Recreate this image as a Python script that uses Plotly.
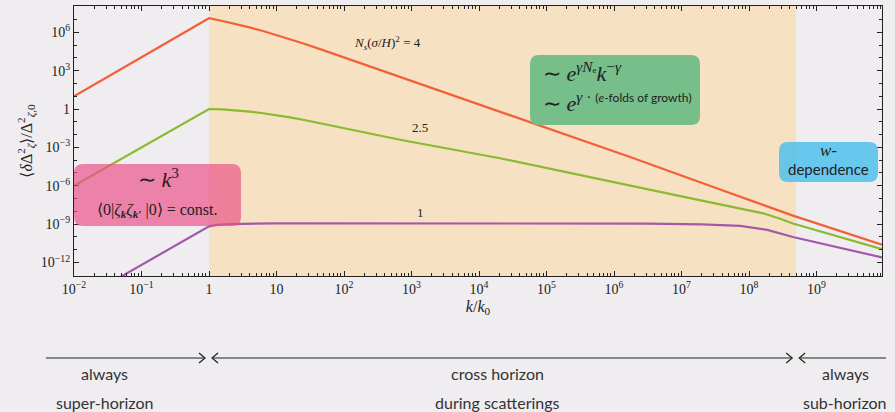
import numpy as np
import plotly.graph_objects as go

# ---------------- data ----------------
# log10(k/k0) sample points and log10 of <dDelta^2>/Delta^2_0
k_orange = [-2.0, 0.0, 0.2, 0.4, 0.6, 0.8, 1.0, 1.2, 1.4, 1.7, 2.0, 2.83, 4.3, 5.64, 6.28, 7.5,
            8.65, 9.97]
v_orange = [1.0, 7.09, 6.88, 6.64, 6.38, 6.10, 5.79, 5.46, 5.12, 4.58, 4.03, 2.50, -0.2, -2.65,
            -3.83, -6.15, -8.33, -10.6]

k_green = [-2.0, 0.0, 0.2, 0.4, 0.6, 0.8, 1.0, 1.2, 1.43, 1.7, 2.0, 2.83, 4.31, 5.64, 7.0, 8.21,
           8.45, 8.65, 9.97]
v_green = [-6.0, 0.0, -0.03, -0.10, -0.20, -0.33, -0.48, -0.66, -0.88, -1.17, -1.50, -2.40, -3.85,
           -5.34, -6.83, -8.15, -8.55, -8.95, -10.96]

k_purple = [-2.0, 0.0, 0.12, 0.31, 1.0, 1.64, 5.64, 6.5, 7.3, 7.87, 8.27, 8.65, 9.97]
v_purple = [-15.2, -9.17, -9.06, -9.0, -8.93, -8.93, -8.93, -8.96, -9.02, -9.14, -9.45, -10.0, -11.6]

curve_labels = ["<i>N</i><sub><i>s</i></sub>(<i>σ</i>/<i>H</i>)<sup>2</sup> = 4", "2.5", "1"]
label_k = [2.64, 3.13, 3.13]
label_v = [5.16, -1.41, -8.05]

x_tickvals = [1e-2, 1e-1, 1, 10, 1e2, 1e3, 1e4, 1e5, 1e6, 1e7, 1e8, 1e9]
x_ticktext = ["10<sup>−2</sup>", "10<sup>−1</sup>", "1", "10", "10<sup>2</sup>", "10<sup>3</sup>",
              "10<sup>4</sup>", "10<sup>5</sup>", "10<sup>6</sup>", "10<sup>7</sup>",
              "10<sup>8</sup>", "10<sup>9</sup>"]
y_tickvals = [1e-12, 1e-9, 1e-6, 1e-3, 1, 1e3, 1e6]
y_ticktext = ["10<sup>−12</sup>", "10<sup>−9</sup>", "10<sup>−6</sup>", "10<sup>−3</sup>",
              "1", "10<sup>3</sup>", "10<sup>6</sup>"]

shade_k = [1.0, 5.0e8]          # crossing-horizon band
x_range_log = [-2.0, 9.97]
y_range_log = [-13.05, 8.05]

region_top = ["always", "cross horizon", "always"]
region_bot = ["super-horizon", "during scatterings", "sub-horizon"]

# ---------------- figure ----------------
BG = "#efedf0"
SERIF = "Liberation Serif, Times New Roman, serif"
SANS = "Lato, sans-serif"

fig = go.Figure()

colors = ["#f2603a", "#8bb92f", "#a458a8"]
for ks, vs, c in [(k_orange, v_orange, colors[0]), (k_green, v_green, colors[1]),
                  (k_purple, v_purple, colors[2])]:
    fig.add_trace(go.Scatter(x=10 ** np.array(ks), y=10 ** np.array(vs), mode="lines",
                             line=dict(color=c, width=2.2), hoverinfo="skip", showlegend=False))

for t, kx, vy in zip(curve_labels, label_k, label_v):
    fig.add_annotation(x=kx, y=vy, xref="x", yref="y", text=t, showarrow=False,
                       xanchor="center", yanchor="middle",
                       font=dict(family=SERIF, size=13, color="#222"))

# shaded band
fig.add_shape(type="rect", xref="x", yref="paper", x0=shade_k[0], x1=shade_k[1],
              y0=0, y1=1, fillcolor="#f6e2c3", line_width=0, layer="below")

W, H = 808.0, 270.0  # plot area in px


def rrect(w, h, r=9):
    a, b = w / 2, h / 2
    return (f"M {-a+r},{-b} L {a-r},{-b} Q {a},{-b} {a},{-b+r} L {a},{b-r} Q {a},{b} {a-r},{b} "
            f"L {-a+r},{b} Q {-a},{b} {-a},{b-r} L {-a},{-b+r} Q {-a},{-b} {-a+r},{-b} Z")


def lx(logk):
    return (logk - x_range_log[0]) / (x_range_log[1] - x_range_log[0])


def box(cx, cy, w, h, color):
    fig.add_shape(type="path", xref="paper", yref="paper", xsizemode="pixel", ysizemode="pixel",
                  xanchor=cx, yanchor=cy, path=rrect(w, h), fillcolor=color, line_width=0,
                  layer="above")


def note(px, py, text, size, family=SERIF, xanchor="center", color="#222"):
    fig.add_annotation(x=(px - 74) / W, y=(276 - py) / H, xref="paper", yref="paper",
                       showarrow=False, text=text, xanchor=xanchor, yanchor="middle",
                       font=dict(family=family, size=size, color=color))


# pink box (left)
box((157.5 - 74) / W, (276 - 195) / H, 167, 62, "rgba(235,80,135,0.68)")
note(158, 178, "∼ <i>k</i><sup>3</sup>", 22)
note(157, 210, "⟨0|<i>ζ</i><sub><b><i>k</i></b></sub><i>ζ</i><sub><b><i>k′</i></b></sub> |0⟩ = const.", 16)

# green box
box((615 - 74) / W, (276 - 90) / H, 170, 70, "#76be8a")
note(541, 72, "∼ <i>e</i><sup><i>γN</i>ₑ</sup><i>k</i><sup>−<i>γ</i></sup>", 22, xanchor="left")
note(541, 102, "∼ <i>e</i><sup><i>γ</i> · <span style='font-family:Lato;font-size:12px'>(<i>e</i>-folds of growth)</span></sup>",
     22, xanchor="left")

# blue box
box((828.5 - 74) / W, (276 - 162) / H, 99, 40, "rgba(80,192,235,0.85)")
note(828.5, 150, "<i>w</i>-", 17)
note(828.5, 169, "dependence", 15, family=SANS)

# bottom arrows
ay = (276 - 358) / H
line_kw = dict(color="#222", width=1.2)
k1, k2 = lx(np.log10(shade_k[0])), lx(np.log10(shade_k[1]))
segs = [((46 - 74) / W, k1 - 4 / W), (k1 + 3 / W, k2 - 4 / W), (k2 + 3 / W, (886 - 74) / W)]
for x0, x1 in segs:
    fig.add_shape(type="line", xref="paper", yref="paper", x0=x0, x1=x1, y0=ay, y1=ay, line=line_kw)


def chevron(xp, direction):
    d = direction
    fig.add_shape(type="path", xref="paper", yref="paper", xsizemode="pixel", ysizemode="pixel",
                  xanchor=xp, yanchor=ay, path=f"M {-6*d},-5 L 0,0 L {-6*d},5", line=line_kw)


chevron(k1 - 4 / W, 1)
chevron(k1 + 3 / W, -1)
chevron(k2 - 4 / W, 1)
chevron(k2 + 3 / W, -1)

centers = [104, 497, 845]
for cx, t1, t2 in zip(centers, region_top, region_bot):
    note(cx, 373, t1, 16, family=SANS, color="#333")
    note(cx, 402, t2, 16, family=SANS, color="#333")

x_minor = [m * 10.0 ** e for e in range(-2, 10) for m in range(2, 10)]
y_minor = [10.0 ** e for e in range(-13, 9) if e % 3 != 0]

axis_common = dict(showline=True, linecolor="#222", linewidth=1.3, mirror="allticks",
                   ticks="inside", ticklen=5, tickcolor="#222", showgrid=False, zeroline=False,
                   tickfont=dict(family=SERIF, size=14, color="#222"))

fig.update_xaxes(type="log", range=x_range_log, tickmode="array", tickvals=x_tickvals,
                 ticktext=x_ticktext, title=dict(text="<i>k</i>/<i>k</i><sub>0</sub>",
                                                 font=dict(family=SERIF, size=16, color="#222"),
                                                 standoff=4),
                 minor=dict(tickmode="array", tickvals=x_minor, ticks="inside", ticklen=3,
                            tickcolor="#222"),
                 **axis_common)
fig.update_yaxes(type="log", range=y_range_log, tickmode="array", tickvals=y_tickvals,
                 ticktext=y_ticktext,
                 title=dict(text="⟨<i>δ</i>Δ<sup>2</sup><sub><i>ζ</i></sub>⟩/Δ<sup>2</sup><sub><i>ζ</i>,0</sub>",
                            font=dict(family=SERIF, size=16, color="#222"), standoff=4),
                 minor=dict(tickmode="array", tickvals=y_minor, ticks="inside", ticklen=3,
                            tickcolor="#222"),
                 **axis_common)

fig.update_layout(width=895, height=412, margin=dict(l=74, r=13, t=6, b=136),
                  paper_bgcolor=BG, plot_bgcolor=BG, showlegend=False)

fig.write_html("out.html")
